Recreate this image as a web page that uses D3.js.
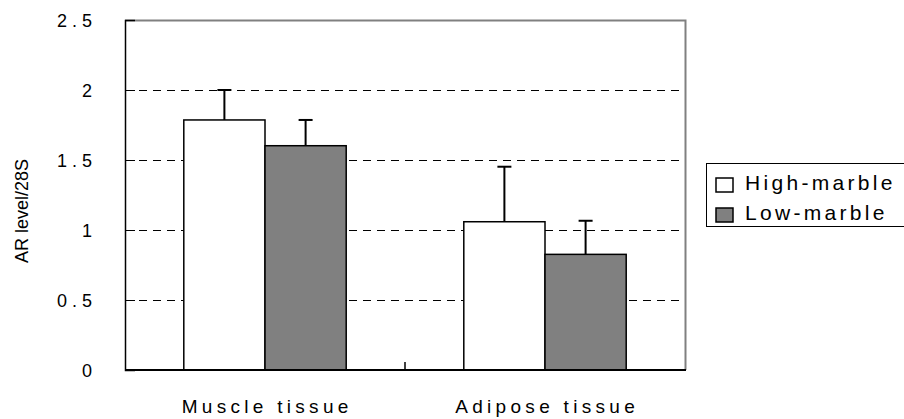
<!DOCTYPE html>
<html>
<head>
<meta charset="utf-8">
<script src="https://cdn.jsdelivr.net/npm/d3@7"></script>
<style>
  html, body { margin: 0; padding: 0; background: #fff; }
  svg { display: block; }
  .lbl { font-family: "Liberation Sans", Arial, sans-serif; fill: #000; }
</style>
</head>
<body>
<svg id="chart" width="904" height="419"></svg>
<script>
// Tissue groups, marbling groups, means and error bars (AR level / 28S)
const categories = ["Muscle tissue", "Adipose tissue"];
const seriesNames = ["High-marble", "Low-marble"];
const highMarble = [1.786, 1.059];
const lowMarble = [1.602, 0.826];
const highErr = [0.214, 0.393];
const lowErr = [0.184, 0.240];
const yTicks = [0, 0.5, 1, 1.5, 2, 2.5];
const yTickLabels = ["0", "0.5", "1", "1.5", "2", "2.5"];

const svg = d3.select("#chart");
const m = { left: 125, top: 20, right: 685, bottom: 370 };

const x0 = d3.scaleBand().domain(categories).range([m.left, m.right]).paddingInner(0.42).paddingOuter(0.21);
const x1 = d3.scaleBand().domain(seriesNames).range([0, x0.bandwidth()]);
const y = d3.scaleLinear().domain([0, 2.5]).range([m.bottom, m.top]);

const fills = { "High-marble": "#ffffff", "Low-marble": "#808080" };
const values = { "High-marble": highMarble, "Low-marble": lowMarble };
const errs = { "High-marble": highErr, "Low-marble": lowErr };

// Dashed gridlines
svg.append("g").selectAll("line")
  .data(yTicks.filter(t => t > 0 && t < 2.5))
  .join("line")
  .attr("x1", m.left).attr("x2", m.right)
  .attr("y1", d => Math.round(y(d)) + 0.5).attr("y2", d => Math.round(y(d)) + 0.5)
  .attr("stroke", "#000").attr("stroke-width", 1)
  .attr("stroke-dasharray", "8,6");

// Frame: grey top/right, black left/bottom
svg.append("path")
  .attr("d", `M${m.left},${m.top + 0.5}H${m.right + 0.5}V${m.bottom}`)
  .attr("fill", "none").attr("stroke", "#808080").attr("stroke-width", 2);

const groups = svg.append("g").selectAll("g")
  .data(categories.map((c, i) => ({ c, i })))
  .join("g");

// Error bars: stem from the bar top up to mean + error, with a cap
seriesNames.forEach(s => {
  const cx = d => x0(d.c) + x1(s) + x1.bandwidth() / 2;
  groups.append("line")
    .attr("x1", cx).attr("x2", cx)
    .attr("y1", d => y(values[s][d.i]))
    .attr("y2", d => y(values[s][d.i] + errs[s][d.i]))
    .attr("stroke", "#000").attr("stroke-width", 2);
  groups.append("line")
    .attr("x1", d => cx(d) - 7).attr("x2", d => cx(d) + 7)
    .attr("y1", d => y(values[s][d.i] + errs[s][d.i]))
    .attr("y2", d => y(values[s][d.i] + errs[s][d.i]))
    .attr("stroke", "#000").attr("stroke-width", 2);
});

seriesNames.forEach(s => {
  groups.append("rect")
    .attr("x", d => x0(d.c) + x1(s))
    .attr("width", x1.bandwidth())
    .attr("y", d => y(values[s][d.i]))
    .attr("height", d => y(0) - y(values[s][d.i]))
    .attr("fill", fills[s])
    .attr("stroke", "#000").attr("stroke-width", 1.5);
});

// Left axis with inward ticks
const tickSpacing = 5;
const yAxis = d3.axisLeft(y).tickValues(yTicks).tickSize(-10).tickFormat((d, i) => yTickLabels[i]);
const ya = svg.append("g").attr("transform", `translate(${m.left},0)`).call(yAxis);
ya.select(".domain").attr("stroke", "#000").attr("stroke-width", 1.5);
ya.selectAll(".tick line").attr("stroke", "#000");
ya.selectAll(".tick text").remove();
ya.selectAll(".tick").append("text")
  .attr("class", "lbl")
  .attr("x", -33 + tickSpacing).attr("dy", "0.36em")
  .attr("text-anchor", "end")
  .style("font-size", "18px").style("letter-spacing", tickSpacing + "px")
  .text((d, i) => yTickLabels[i]);

// Bottom axis
svg.append("line")
  .attr("x1", m.left).attr("x2", m.right + 1)
  .attr("y1", m.bottom).attr("y2", m.bottom)
  .attr("stroke", "#000").attr("stroke-width", 2);
// Category divider tick
const divX = (x0(categories[0]) + x0.bandwidth() + x0(categories[1])) / 2;
svg.append("line")
  .attr("x1", divX).attr("x2", divX)
  .attr("y1", m.bottom).attr("y2", m.bottom - 8)
  .attr("stroke", "#000").attr("stroke-width", 1.5);

const catSpacing = 4.3;
svg.append("g").selectAll("text")
  .data(categories)
  .join("text")
  .attr("class", "lbl")
  .attr("x", d => x0(d) + x0.bandwidth() / 2 + catSpacing / 2)
  .attr("y", 413)
  .attr("text-anchor", "middle")
  .style("font-size", "19px").style("letter-spacing", catSpacing + "px")
  .text(d => d);

// Y axis title
svg.append("text")
  .attr("class", "lbl")
  .attr("transform", `translate(28,211) rotate(-90)`)
  .attr("text-anchor", "middle")
  .style("font-size", "18px")
  .text("AR level/28S");

// Legend
const lg = svg.append("g");
lg.append("rect")
  .attr("x", 706.5).attr("y", 163.5).attr("width", 200).attr("height", 63)
  .attr("fill", "#fff").attr("stroke", "#000").attr("stroke-width", 1);
seriesNames.forEach((s, i) => {
  lg.append("rect")
    .attr("x", 716).attr("y", 178 + i * 30).attr("width", 17).attr("height", 14)
    .attr("fill", fills[s]).attr("stroke", "#000").attr("stroke-width", 1.5);
  lg.append("text")
    .attr("class", "lbl")
    .attr("x", 745).attr("y", 190 + i * 30)
    .style("font-size", "21px").style("letter-spacing", "3.3px")
    .text(s);
});
</script>
</body>
</html>
